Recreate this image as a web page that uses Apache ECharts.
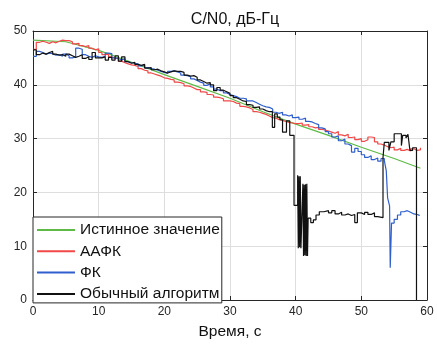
<!DOCTYPE html>
<html>
<head>
<meta charset="utf-8">
<script src="https://cdn.jsdelivr.net/npm/echarts@6/dist/echarts.min.js"></script>
<style>
  html, body { margin: 0; padding: 0; background: #fff; }
  #chart { width: 437px; height: 345px; }
</style>
</head>
<body>
<div id="chart"></div>
<script>
// sample period of the stepped estimates, s
const dt = 0.5;

// true C/N0 (smooth)
const trueTime = [0, 5, 10, 15, 20, 25, 30, 35, 40, 45, 50, 55, 59];
const trueVal = [48.3, 48.0, 46.4, 44.2, 41.9, 39.7, 37.5, 35.0, 32.7, 30.6, 28.4, 26.3, 24.5];

// ААФК, every 0.5 s from 0 to 59
const aafkVal = [
  46.6, 47.9, 48.1, 47.9, 47.7, 48.0, 47.8, 48.1, 48.3, 48.2, 48.2, 48.0, 47.6, 47.7, 47.3, 47.1, 47.3, 46.8, 46.5, 46.7,
  46.0, 45.6, 45.7, 45.2, 44.9, 44.9, 44.4, 44.1, 43.9, 43.7, 43.6, 43.4, 43.0, 42.7, 42.6, 42.2, 42.0, 41.8, 41.6, 41.3,
  41.2, 41.0, 40.9, 40.5, 40.4, 40.2, 39.8, 39.7, 39.4, 39.1, 39.1, 38.7, 38.6, 38.2, 38.1, 37.7, 37.6, 37.4, 37.0, 37.0,
  36.9, 36.6, 36.5, 36.0, 35.9, 35.7, 35.4, 35.0, 34.9, 34.7, 34.5, 34.2, 33.9, 33.8, 33.5, 33.4, 33.2, 33.0, 32.9, 32.8,
  32.8, 32.9, 32.5, 32.6, 32.2, 32.0, 32.1, 31.7, 31.6, 31.4, 31.2, 31.0, 31.3, 30.7, 30.5, 30.8, 30.2, 30.3, 29.8, 30.0,
  29.5, 29.8, 30.3, 30.2, 29.4, 29.0, 28.8, 28.5, 28.3, 28.4, 27.9, 28.2, 27.8, 28.0, 27.7, 28.1, 27.8, 27.9, 28.3
];

// ФК, every 0.5 s from 0 to 53.5, then the tail
const fkVal = [
  45.3, 46.2, 46.0, 45.7, 45.9, 45.8, 45.5, 45.6, 45.3, 45.7, 45.4, 45.0, 45.2, 46.8, 46.6, 45.6, 45.3, 45.1, 45.4, 45.2,
  45.1, 45.3, 45.9, 45.8, 45.0, 44.9, 44.6, 44.9, 44.3, 44.1, 44.0, 43.9, 43.5, 43.6, 43.2, 43.0, 42.9, 42.7, 42.5, 42.3,
  42.1, 42.5, 42.6, 42.4, 42.2, 41.8, 41.7, 41.5, 41.1, 40.8, 40.5, 40.3, 39.9, 40.2, 39.6, 39.2, 38.9, 38.9, 38.5, 38.2,
  38.0, 37.8, 37.5, 37.5, 37.4, 37.0, 37.0, 36.7, 36.4, 36.1, 35.9, 35.8, 35.5, 34.9, 34.7, 34.9, 34.4, 34.2, 34.4, 33.9,
  34.0, 33.6, 33.8, 33.2, 33.1, 32.8, 32.6, 32.0, 31.8, 31.3, 30.9, 30.3, 30.5, 29.6, 29.9, 29.0, 28.7, 27.5, 28.2, 27.6,
  27.0, 26.5, 26.8, 26.1, 26.4, 25.8, 26.3, 25.9
];
const fkTailTime = [53.8, 54.0, 54.3, 54.4, 54.6, 55.0, 55.5, 56.0, 56.5, 57.0, 57.5, 58.0, 58.8];
const fkTailVal = [24.0, 19.0, 17.5, 6.0, 14.3, 15.0, 15.8, 16.4, 16.6, 16.3, 16.0, 15.8, 15.6];

// Обычный алгоритм, every 0.5 s from 0 to 35.5, then irregular points
const plainVal = [
  46.5, 45.6, 45.9, 45.7, 46.0, 46.2, 45.7, 45.5, 45.6, 45.3, 45.7, 45.4, 45.1, 45.3, 45.6, 44.9, 45.2, 44.7, 46.0, 45.0,
  45.0, 45.2, 44.6, 45.1, 44.6, 45.4, 44.4, 45.2, 44.3, 44.0, 44.2, 43.8, 43.6, 43.8, 43.1, 43.2, 42.8, 42.9, 42.6, 42.4,
  42.2, 42.4, 42.6, 42.5, 42.5, 42.3, 41.8, 41.6, 41.7, 41.4, 40.9, 40.6, 40.3, 40.4, 40.0, 38.9, 39.5, 39.0, 38.7, 38.4,
  38.0, 37.6, 37.3, 37.0, 36.9, 36.3, 36.2, 35.8, 35.9, 35.5, 35.2, 35.0
];
const plainTailTime = [
  36.0, 36.45, 36.8, 37.2, 37.6, 38.0, 38.6, 39.1, 39.75, 40.3, 40.4, 40.5, 40.6, 40.7, 40.8,
  41.1, 41.2, 41.3, 41.4, 41.5, 41.6, 41.7, 41.8, 41.9, 42.3, 42.7, 43.1, 43.6, 44.3, 44.6, 45.0,
  45.5, 46.0, 46.5, 47.0, 47.5, 48.0, 48.5, 49.0, 49.4, 50.0, 50.5, 51.0, 51.5, 52.0, 52.5, 53.3,
  53.5, 54.2, 54.5, 55.0, 56.1, 56.3, 56.8, 57.1, 57.4, 57.8, 58.4
];
const plainTailVal = [
  35.0, 32.1, 34.6, 34.0, 33.5, 31.2, 33.3, 30.6, 17.6, 23.2, 9.6, 23.0, 9.8, 23.0, 9.6,
  21.6, 8.2, 21.4, 8.3, 21.5, 8.2, 21.6, 8.2, 15.2, 14.4, 14.9, 15.8, 16.4, 16.1, 16.6, 16.2,
  16.6, 16.0, 16.3, 15.8, 16.0, 15.7, 15.9, 14.4, 16.2, 15.9, 16.3, 15.9, 16.2, 15.5, 15.3, 26.5,
  29.3, 27.8, 29.4, 30.9, 28.7, 30.6, 30.1, 30.8, 27.8, 28.3, 0
];

const xTicks = { min: 0, max: 60, interval: 10 };
const yTicks = { min: 0, max: 50, interval: 10 };

const names = ["Истинное значение", "ААФК", "ФК", "Обычный алгоритм"];
const colors = ["#5dbb45", "#f24848", "#2e5fcc", "#111111"];

function sampled(vals) {
  return vals.map((v, i) => [i * dt, v]);
}
function paired(ts, vs) {
  return ts.map((t, i) => [t, vs[i]]);
}

const font = "'Liberation Sans', Arial, sans-serif";
const axisColor = "#262626";

const chart = echarts.init(document.getElementById("chart"));

function baseAxis(ticks, show) {
  return {
    type: "value",
    min: ticks.min,
    max: ticks.max,
    interval: ticks.interval,
    axisLine: { show: true, onZero: false, lineStyle: { color: axisColor, width: 1 } },
    axisTick: { show: true, inside: true, length: 4, lineStyle: { color: axisColor } },
    axisLabel: { show: show, color: axisColor, fontSize: 12, fontFamily: font, margin: 6 },
    splitLine: { show: show, lineStyle: { color: "#dedede", width: 1 } },
  };
}

const lineSeries = (name, data, color, step) => ({
  name: name,
  type: "line",
  data: data,
  step: step,
  symbol: "none",
  showSymbol: false,
  lineStyle: { color: color, width: 1.2 },
  itemStyle: { color: color },
  animation: false,
});

chart.setOption({
  animation: false,
  title: {
    text: "C/N0, дБ-Гц",
    left: 230,
    textAlign: "center",
    top: 7,
    textStyle: { fontSize: 16, fontWeight: "normal", color: "#111", fontFamily: font },
  },
  grid: { left: 33, right: 10, top: 31, bottom: 43 },
  legend: {
    orient: "vertical",
    left: 33,
    top: 217,
    icon: "rect",
    itemWidth: 38,
    itemHeight: 2,
    itemGap: 5.3,
    padding: [5, 2, 1, 4],
    backgroundColor: "#fff",
    borderColor: axisColor,
    borderWidth: 1,
    borderRadius: 0,
    textStyle: { fontSize: 15.5, color: "#111", fontFamily: font, lineHeight: 16 },
    data: names,
  },
  xAxis: [
    Object.assign(baseAxis(xTicks, true), {
      position: "bottom",
      name: "Время, с",
      nameLocation: "middle",
      nameGap: 24,
      nameTextStyle: { fontSize: 15.5, color: "#111", fontFamily: font },
    }),
    Object.assign(baseAxis(xTicks, false), { position: "top" }),
  ],
  yAxis: [
    Object.assign(baseAxis(yTicks, true), { position: "left" }),
    Object.assign(baseAxis(yTicks, false), { position: "right" }),
  ],
  series: [
    lineSeries(names[0], paired(trueTime, trueVal), colors[0], false),
    lineSeries(names[1], sampled(aafkVal), colors[1], "end"),
    lineSeries(names[2], sampled(fkVal).concat(paired(fkTailTime, fkTailVal)), colors[2], "end"),
    lineSeries(names[3], sampled(plainVal).concat(paired(plainTailTime, plainTailVal)), colors[3], "end"),
  ],
});
</script>
</body>
</html>
